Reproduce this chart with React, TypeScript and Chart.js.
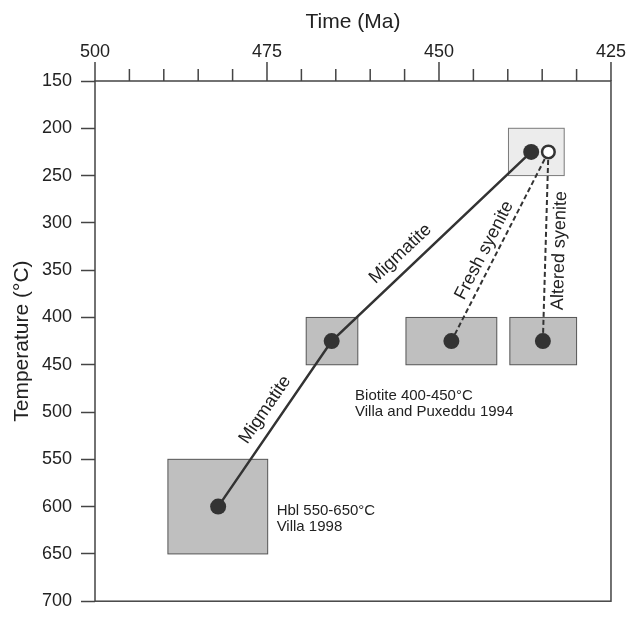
import React, { useEffect, useRef } from "react";
import { Chart, registerables } from "chart.js";

Chart.register(...registerables);

// ---- axis values ----
const xMin = 425;
const xMax = 500;
const xStep = 5;
const xMajorEvery = 25;
const yMin = 150;
const yMax = 700;
const yStep = 50;

// ---- series (Time Ma, Temperature °C) ----
const migmatiteTime = [482.1, 465.6, 436.6];
const migmatiteTemp = [600, 425, 225];
const syeniteTime = [434.1];
const syeniteTemp = [225];
const freshTime = [434.1, 448.2];
const freshTemp = [225, 425];
const alteredTime = [434.1, 434.9];
const alteredTemp = [225, 425];

// ---- boxes (age / temperature ranges) ----
const boxTimeOld = [489.4, 469.3, 454.8, 439.7, 439.9];
const boxTimeYoung = [474.9, 461.8, 441.6, 430.0, 431.8];
const boxTempLow = [550, 400, 400, 400, 200];
const boxTempHigh = [650, 450, 450, 450, 250];
const boxKind = ["gray", "gray", "gray", "gray", "light"];

// ---- text notes ----
const noteLines = [
  ["Hbl 550-650°C", "Villa 1998"],
  ["Biotite 400-450°C", "Villa and Puxeddu 1994"],
];
const noteTime = [473.6, 462.2];
const noteTemp = [604, 483];

// ---- line labels ----
const lineLabelText = ["Migmatite", "Migmatite", "Fresh syenite", "Altered syenite"];

const FONT = "'Liberation Sans', Arial, Helvetica, sans-serif";
const INK = "#222222";
const DARK = "#333333";
const AXIS = "#444444";

const toPts = (xs: number[], ys: number[]) => xs.map((x, i) => ({ x, y: ys[i] }));

const decorPlugin = {
  id: "decor",
  beforeDatasetsDraw(chart: any) {
    const { ctx } = chart;
    const xs = chart.scales.x;
    const ys = chart.scales.y;
    ctx.save();
    for (let i = 0; i < boxTimeOld.length; i++) {
      const x1 = xs.getPixelForValue(boxTimeOld[i]);
      const x2 = xs.getPixelForValue(boxTimeYoung[i]);
      const y1 = ys.getPixelForValue(boxTempLow[i]);
      const y2 = ys.getPixelForValue(boxTempHigh[i]);
      const light = boxKind[i] === "light";
      ctx.fillStyle = light ? "#ececec" : "#bfbfbf";
      ctx.strokeStyle = light ? "#7a7a7a" : "#555555";
      ctx.lineWidth = 1;
      ctx.fillRect(x1, y1, x2 - x1, y2 - y1);
      ctx.strokeRect(x1, y1, x2 - x1, y2 - y1);
    }
    ctx.restore();
  },
  afterDatasetsDraw(chart: any) {
    const { ctx, chartArea } = chart;
    const xs = chart.scales.x;
    const ys = chart.scales.y;
    ctx.save();
    // frame
    ctx.strokeStyle = AXIS;
    ctx.lineWidth = 1.5;
    ctx.strokeRect(chartArea.left, chartArea.top, chartArea.right - chartArea.left, chartArea.bottom - chartArea.top);
    // top x tick marks
    ctx.beginPath();
    xs.ticks.forEach((t: any) => {
      const px = xs.getPixelForValue(t.value);
      const len = Math.abs(t.value % xMajorEvery) < 1e-6 ? 19 : 12;
      ctx.moveTo(px, chartArea.top);
      ctx.lineTo(px, chartArea.top - len);
    });
    ctx.stroke();

    // notes
    ctx.fillStyle = INK;
    ctx.font = `15px ${FONT}`;
    ctx.textAlign = "left";
    ctx.textBaseline = "middle";
    noteLines.forEach((lines, i) => {
      const px = xs.getPixelForValue(noteTime[i]);
      const py = ys.getPixelForValue(noteTemp[i]);
      lines.forEach((s, j) => ctx.fillText(s, px, py + j * 16));
    });

    // line labels
    const P = (x: number, y: number) => ({ x: xs.getPixelForValue(x), y: ys.getPixelForValue(y) });
    const segs = [
      [P(migmatiteTime[0], migmatiteTemp[0]), P(migmatiteTime[1], migmatiteTemp[1])],
      [P(migmatiteTime[1], migmatiteTemp[1]), P(migmatiteTime[2], migmatiteTemp[2])],
      [P(freshTime[0], freshTemp[0]), P(freshTime[1], freshTemp[1])],
      [P(alteredTime[0], alteredTemp[0]), P(alteredTime[1], alteredTemp[1])],
    ];
    const fracs = [0.53, 0.4, 0.55, 0.52];
    const offs = [16, 16, 12, -14];
    ctx.font = `18px ${FONT}`;
    ctx.textAlign = "center";
    ctx.textBaseline = "middle";
    segs.forEach(([a, b], i) => {
      const dx = b.x - a.x;
      const dy = b.y - a.y;
      let ang = Math.atan2(dy, dx);
      if (ang > Math.PI / 2) ang -= Math.PI;
      if (ang < -Math.PI / 2) ang += Math.PI;
      const ux = Math.sin(ang);
      const uy = -Math.cos(ang);
      const cx = a.x + dx * fracs[i] + ux * offs[i];
      const cy = a.y + dy * fracs[i] + uy * offs[i];
      ctx.save();
      ctx.translate(cx, cy);
      ctx.rotate(ang);
      ctx.fillText(lineLabelText[i], 0, 0);
      ctx.restore();
    });
    ctx.restore();
  },
};

export default function App() {
  const ref = useRef<HTMLCanvasElement | null>(null);
  useEffect(() => {
    if (!ref.current) return;
    Chart.defaults.font.family = FONT;
    Chart.defaults.color = INK;
    const chart = new Chart(ref.current, {
      type: "scatter",
      data: {
        datasets: [
          {
            label: "Syenite",
            data: toPts(syeniteTime, syeniteTemp),
            pointRadius: 6.3,
            pointBackgroundColor: "#ffffff",
            pointBorderColor: DARK,
            pointBorderWidth: 2.5,
            showLine: false,
          },
          {
            label: "Migmatite",
            data: toPts(migmatiteTime, migmatiteTemp),
            showLine: true,
            borderColor: DARK,
            borderWidth: 2.5,
            pointRadius: 8,
            pointBorderWidth: 0,
            pointBackgroundColor: DARK,
          },
          {
            label: "Fresh syenite",
            data: toPts(freshTime, freshTemp),
            showLine: true,
            borderColor: DARK,
            borderWidth: 2,
            borderDash: [5, 3],
            pointRadius: [0, 8],
            pointBorderWidth: 0,
            pointBackgroundColor: DARK,
          },
          {
            label: "Altered syenite",
            data: toPts(alteredTime, alteredTemp),
            showLine: true,
            borderColor: DARK,
            borderWidth: 2,
            borderDash: [5, 3],
            pointRadius: [0, 8],
            pointBorderWidth: 0,
            pointBackgroundColor: DARK,
          },
        ],
      },
      options: {
        animation: false,
        responsive: false,
        maintainAspectRatio: false,
        layout: { padding: { left: 0, top: 0, right: 17, bottom: 8 } },
        plugins: { legend: { display: false }, tooltip: { enabled: false } },
        scales: {
          x: {
            type: "linear",
            position: "top",
            min: xMin,
            max: xMax,
            reverse: true,
            afterFit: (s: any) => { s.height = 81; },
            border: { display: false },
            grid: { display: false, drawTicks: false },
            ticks: {
              stepSize: xStep,
              autoSkip: false,
              maxRotation: 0,
              padding: 18,
              color: INK,
              font: { size: 18 },
              callback: (v: any) => (Math.abs(Number(v) % xMajorEvery) < 1e-6 ? String(v) : ""),
            },
            title: { display: true, text: "Time (Ma)", color: INK, font: { size: 21 }, padding: { top: 10, bottom: 0 } },
          },
          y: {
            type: "linear",
            position: "left",
            min: yMin,
            max: yMax,
            reverse: true,
            afterFit: (s: any) => { s.width = 95; },
            border: { display: false },
            grid: { drawOnChartArea: false, drawTicks: true, tickLength: 14, tickColor: AXIS, tickWidth: 1.5 },
            ticks: { stepSize: yStep, padding: 9, color: INK, font: { size: 18 } },
            title: { display: true, text: "Temperature (°C)", color: INK, font: { size: 21 }, padding: { top: 10, bottom: 0 } },
          },
        },
      },
      plugins: [decorPlugin],
    });
    return () => chart.destroy();
  }, []);
  return (
    <div style={{ position: "fixed", left: 0, top: 0, width: 644, height: 621, background: "#fff" }}>
      <canvas ref={ref} width={644} height={621} style={{ width: 644, height: 621, display: "block" }} />
    </div>
  );
}
